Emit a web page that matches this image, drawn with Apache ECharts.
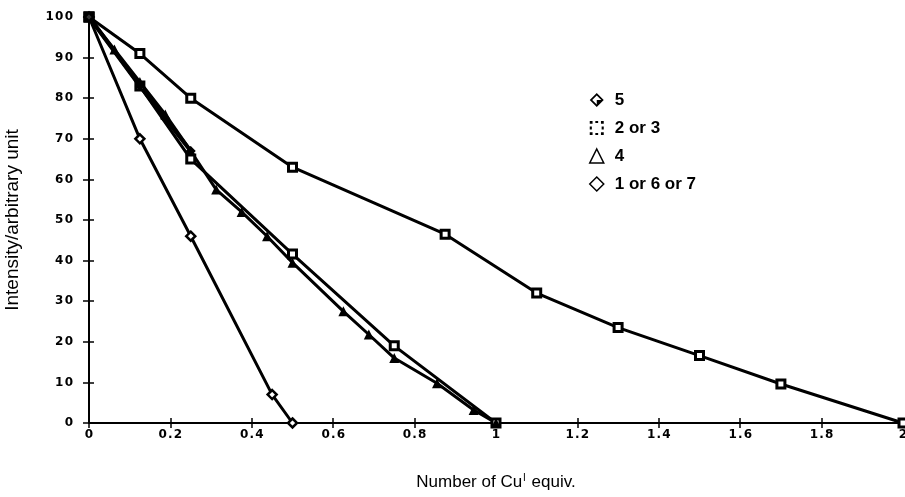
<!DOCTYPE html>
<html>
<head>
<meta charset="utf-8">
<script src="https://cdn.jsdelivr.net/npm/echarts@6/dist/echarts.min.js"></script>
<style>
  html, body { margin: 0; padding: 0; background: #fff; }
  #chart { width: 905px; height: 497px; }
</style>
</head>
<body>
<div id="chart"></div>
<script>
// x values / intensities
var xTicks = [0, 0.2, 0.4, 0.6, 0.8, 1, 1.2, 1.4, 1.6, 1.8, 2]
var yTicks = [0, 10, 20, 30, 40, 50, 60, 70, 80, 90, 100]

// squares, long curve to 2 equiv.
var sqLongX = [0, 0.125, 0.25, 0.5, 0.875, 1.1, 1.3, 1.5, 1.7, 2]
var sqLongY = [100, 91, 80, 63, 46.5, 32, 23.5, 16.6, 9.6, 0]
// squares, straight to 1 equiv.
var sqShortX = [0, 0.125, 0.25, 0.5, 0.75, 1]
var sqShortY = [100, 83, 65, 41.6, 19, 0]
// triangles (4)
var triX = [0, 0.0625, 0.125, 0.1875, 0.25, 0.3125, 0.375, 0.4375, 0.5, 0.625, 0.6875, 0.75, 0.855, 0.945, 1]
var triY = [100, 92, 84, 76, 67, 57.5, 52, 46, 39.5, 27.5, 21.8, 16, 9.8, 3.2, 0]
// filled diamonds (5)
var fiveX = [0, 0.125, 0.1875, 0.25]
var fiveY = [100, 83, 75, 67]
// open diamonds (1 or 6 or 7)
var diaX = [0, 0.125, 0.25, 0.45, 0.5]
var diaY = [100, 70, 46, 7, 0]

function pairs(xs, ys) {
  var out = []
  for (var i = 0; i < xs.length; i++) out.push([xs[i], ys[i]])
  return out
}

// spread digits a little, like the typeset labels
function spaced(v) {
  return String(v).split('').join('\u200a')
}

var halfDiamond = 'path://M10,0L20,10L10,20L0,10Z M10,3.5L3.5,10L10,16.5L16.5,10Z M10,10L16.5,10L10,16.5Z'
var dotSquare = 'path://M0,0h4v4h-4z M16,0h4v4h-4z M0,16h4v4h-4z M16,16h4v4h-4z M8,0h4v3h-4z M8,17h4v3h-4z M0,8h3v4h-3z M17,8h3v4h-3z'

var labelFont = { color: '#000', fontFamily: 'DejaVu Sans', fontWeight: 'bold', fontSize: 12 }
var axisLine = { show: true, onZero: false, lineStyle: { color: '#000', width: 2 } }

var chartDom = document.getElementById('chart')
var myChart = echarts.init(chartDom)

var lineStyle = { color: '#000', width: 3 }

var option = {
  animation: false,
  backgroundColor: '#fff',
  grid: { left: 89, right: 2, top: 17, bottom: 74, outerBoundsMode: 'none' },
  legend: {
    orient: 'vertical',
    left: 589,
    top: 91,
    padding: 0,
    itemWidth: 14,
    itemHeight: 14,
    itemGap: 10,
    selectedMode: false,
    textStyle: { color: '#000', fontFamily: 'Liberation Sans', fontWeight: 'bold', fontSize: 17, lineHeight: 18, padding: [0, 0, 0, 6] },
    data: [
      { name: '5', icon: halfDiamond, itemStyle: { color: '#000', borderWidth: 0 } },
      { name: '2 or 3', icon: dotSquare, itemStyle: { color: '#000', borderWidth: 0 } },
      { name: '4', icon: 'triangle', itemStyle: { color: '#fff', borderColor: '#000', borderWidth: 1.5 } },
      { name: '1 or 6 or 7', icon: 'diamond', itemStyle: { color: '#fff', borderColor: '#000', borderWidth: 1.5 } }
    ]
  },
  xAxis: [
    {
      type: 'value', min: 0, max: 2, interval: 0.2, position: 'bottom',
      axisLine: axisLine,
      axisTick: { show: true, length: 5, lineStyle: { color: '#000', width: 1.5 } },
      splitLine: { show: false },
      axisLabel: Object.assign({ margin: 6, formatter: spaced }, labelFont),
      name: '{a|Number of Cu}{s|I}{a| equiv.}',
      nameLocation: 'middle',
      nameGap: 50,
      nameTextStyle: {
        rich: {
          a: { fontFamily: 'Liberation Sans', fontSize: 17, color: '#000' },
          s: { fontFamily: 'Liberation Sans', fontSize: 10, color: '#000', verticalAlign: 'top', padding: [0, 1, 8, 1] }
        }
      }
    },
    {
      type: 'value', min: 0, max: 2, interval: 0.2, position: 'bottom',
      axisLine: { show: false },
      axisTick: { show: true, inside: true, length: 5, lineStyle: { color: '#000', width: 1.5 } },
      splitLine: { show: false },
      axisLabel: { show: false }
    }
  ],
  yAxis: [
    {
      type: 'value', min: 0, max: 100, interval: 10, position: 'left',
      axisLine: axisLine,
      axisTick: { show: true, length: 6, lineStyle: { color: '#000', width: 1.5 } },
      splitLine: { show: false },
      axisLabel: Object.assign({ margin: 16, formatter: spaced }, labelFont),
      name: 'Intensity/arbitrary unit',
      nameLocation: 'middle',
      nameGap: 67,
      nameTextStyle: { fontFamily: 'Liberation Sans', fontSize: 19, color: '#000' }
    },
    {
      type: 'value', min: 0, max: 100, interval: 10, position: 'left',
      axisLine: { show: false },
      axisTick: { show: true, inside: true, length: 5, lineStyle: { color: '#000', width: 1.5 } },
      splitLine: { show: false },
      axisLabel: { show: false }
    }
  ],
  series: [
    {
      name: '2 or 3', type: 'line', data: pairs(sqLongX, sqLongY),
      lineStyle: lineStyle, symbol: 'rect', symbolSize: 8,
      itemStyle: { color: '#fff', borderColor: '#000', borderWidth: 3 }
    },
    {
      name: '2 or 3', type: 'line', data: pairs(sqShortX, sqShortY),
      lineStyle: lineStyle, symbol: 'rect', symbolSize: 8,
      itemStyle: { color: '#fff', borderColor: '#000', borderWidth: 3 }
    },
    {
      name: '4', type: 'line', data: pairs(triX, triY),
      lineStyle: lineStyle, symbol: 'triangle', symbolSize: 10,
      itemStyle: { color: '#000', borderColor: '#000', borderWidth: 0 }
    },
    {
      name: '5', type: 'line', data: pairs(fiveX, fiveY),
      lineStyle: { color: '#000', width: 4 }, symbol: 'diamond', symbolSize: 10,
      itemStyle: { color: '#000', borderColor: '#000', borderWidth: 0 }
    },
    {
      name: '1 or 6 or 7', type: 'line', data: pairs(diaX, diaY),
      lineStyle: lineStyle, symbol: 'diamond', symbolSize: 9,
      itemStyle: { color: '#fff', borderColor: '#000', borderWidth: 2.5 }
    },
    {
      // shared start point drawn as a solid block
      name: '2 or 3', type: 'scatter', data: [[sqLongX[0], sqLongY[0]]],
      symbol: 'rect', symbolSize: 11, z: 5,
      itemStyle: { color: '#000' }
    }
  ]
}

myChart.setOption(option)
</script>
</body>
</html>
